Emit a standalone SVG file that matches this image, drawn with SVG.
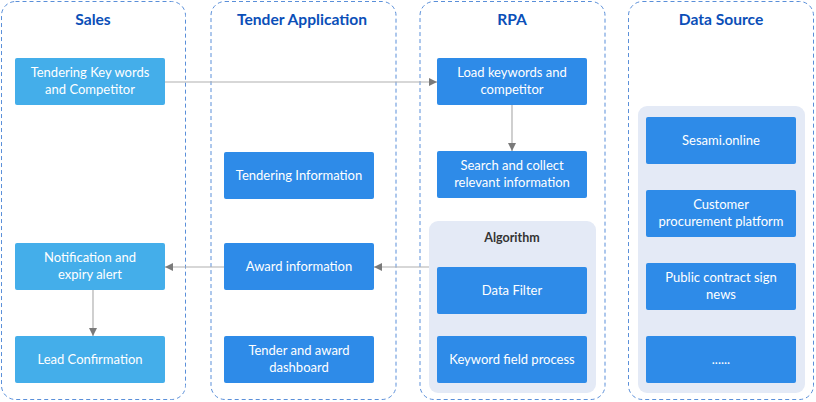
<svg xmlns="http://www.w3.org/2000/svg" width="816" height="402" viewBox="0 0 816 402">
<defs>
<style>
.lane{fill:#fff;stroke:#5a8fd9;stroke-width:1;stroke-dasharray:4 3}
.title{font-family:Lato,"Liberation Sans",sans-serif;font-weight:bold;font-size:15.6px;fill:#0b4fb8;text-anchor:middle}
.light{fill:#44aeea}
.dark{fill:#2e8be8}
.t{font-family:Lato,"Liberation Sans",sans-serif;font-size:13px;fill:#fff;text-anchor:middle}
.grp{fill:#e4eaf6}
.gt{font-family:Lato,"Liberation Sans",sans-serif;font-weight:bold;font-size:12.5px;fill:#333;text-anchor:middle}
.conn{stroke:#b0b0b0;stroke-width:1.2;fill:none;marker-end:url(#arr)}
</style>
<marker id="arr" viewBox="0 0 10 10" refX="10" refY="5" markerWidth="8" markerHeight="8" markerUnits="userSpaceOnUse" orient="auto">
<path d="M0,0 L10,5 L0,10 Z" fill="#7a7a7a"/>
</marker>
</defs>

<g id="lane-sales">
<rect class="lane" x="1.5" y="1.5" width="184" height="398" rx="14"/>
<text class="title" x="93" y="25">Sales</text>
</g>
<g id="lane-tender">
<rect class="lane" x="211" y="1.5" width="185" height="398" rx="14"/>
<text class="title" x="302" y="25">Tender Application</text>
</g>
<g id="lane-rpa">
<rect class="lane" x="420" y="1.5" width="185" height="398" rx="14"/>
<text class="title" x="512" y="25">RPA</text>
</g>
<g id="lane-datasource">
<rect class="lane" x="628.5" y="1.5" width="185" height="398" rx="14"/>
<text class="title" x="721" y="25">Data Source</text>
</g>

<g id="group-algorithm">
<rect class="grp" x="429" y="221" width="167" height="172" rx="9"/>
<text class="gt" x="512" y="242">Algorithm</text>
</g>
<g id="group-datasource">
<rect class="grp" x="638" y="106" width="167" height="287" rx="9"/>
</g>

<g id="n-keywords">
<rect class="light" x="15" y="58" width="150" height="47" rx="2"/>
<text class="t" x="90" y="77">Tendering Key words</text>
<text class="t" x="90" y="94">and Competitor</text>
</g>
<g id="n-notification">
<rect class="light" x="15" y="243" width="150" height="47" rx="2"/>
<text class="t" x="90" y="262">Notification and</text>
<text class="t" x="90" y="279">expiry alert</text>
</g>
<g id="n-lead">
<rect class="light" x="15" y="336" width="150" height="47" rx="2"/>
<text class="t" x="90" y="364">Lead Confirmation</text>
</g>

<g id="n-tendering-info">
<rect class="dark" x="224" y="152" width="150" height="47" rx="2"/>
<text class="t" x="299" y="180">Tendering Information</text>
</g>
<g id="n-award">
<rect class="dark" x="224" y="243" width="150" height="47" rx="2"/>
<text class="t" x="299" y="271">Award information</text>
</g>
<g id="n-dashboard">
<rect class="dark" x="224" y="336" width="150" height="47" rx="2"/>
<text class="t" x="299" y="355">Tender and award</text>
<text class="t" x="299" y="372">dashboard</text>
</g>

<g id="n-load">
<rect class="dark" x="437" y="58" width="150" height="47" rx="2"/>
<text class="t" x="512" y="77">Load keywords and</text>
<text class="t" x="512" y="94">competitor</text>
</g>
<g id="n-search">
<rect class="dark" x="437" y="151" width="150" height="47" rx="2"/>
<text class="t" x="512" y="170">Search and collect</text>
<text class="t" x="512" y="187">relevant information</text>
</g>
<g id="n-filter">
<rect class="dark" x="437" y="267" width="150" height="47" rx="2"/>
<text class="t" x="512" y="295">Data Filter</text>
</g>
<g id="n-keyword-field">
<rect class="dark" x="437" y="336" width="150" height="47" rx="2"/>
<text class="t" x="512" y="364">Keyword field process</text>
</g>

<g id="n-sesami">
<rect class="dark" x="646" y="117" width="150" height="47" rx="2"/>
<text class="t" x="721" y="145">Sesami.online</text>
</g>
<g id="n-customer">
<rect class="dark" x="646" y="190" width="150" height="47" rx="2"/>
<text class="t" x="721" y="209">Customer</text>
<text class="t" x="721" y="226">procurement platform</text>
</g>
<g id="n-public">
<rect class="dark" x="646" y="263" width="150" height="47" rx="2"/>
<text class="t" x="721" y="282">Public contract sign</text>
<text class="t" x="721" y="299">news</text>
</g>
<g id="n-more">
<rect class="dark" x="646" y="336" width="150" height="47" rx="2"/>
<text class="t" x="721" y="364">......</text>
</g>

<g id="connectors">
<path class="conn" d="M165,82 L437,82"/>
<path class="conn" d="M512,105 L512,151"/>
<path class="conn" d="M429,267 L374,267"/>
<path class="conn" d="M224,267 L165,267"/>
<path class="conn" d="M93,290 L93,336"/>
</g>
</svg>
